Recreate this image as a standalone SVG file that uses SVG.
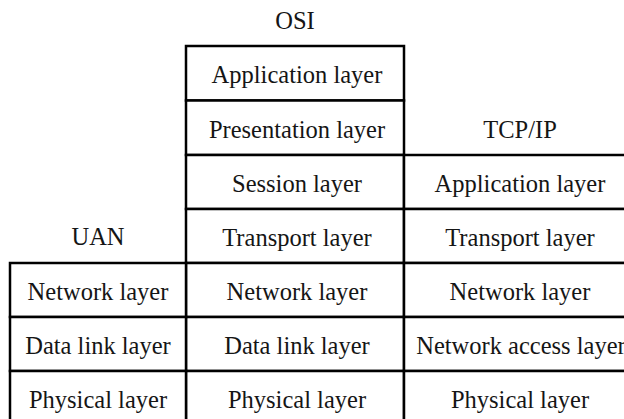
<svg xmlns="http://www.w3.org/2000/svg" width="624" height="419" viewBox="0 0 624 419">
<style>
  .cell { fill: #ffffff; stroke: #000000; stroke-width: 2.5; }
  .t { font-family: 'Liberation Serif', 'Times New Roman', Tinos, 'DejaVu Serif', 'Noto Serif', serif; font-size: 24.5px; fill: #151515; text-anchor: middle; }
</style>
<rect x="0" y="0" width="624" height="419" fill="#ffffff"/>
<g id="labels">
  <text class="t" x="295" y="29">OSI</text>
  <text class="t" x="520" y="138">TCP/IP</text>
  <text class="t" x="98" y="245">UAN</text>
</g>
<g id="osi">
  <g id="osi-application"><rect class="cell" x="186" y="46" width="218" height="54.5"/><text class="t" x="297" y="83">Application layer</text></g>
  <g id="osi-presentation"><rect class="cell" x="186" y="100.5" width="218" height="54.5"/><text class="t" x="297" y="137.5">Presentation layer</text></g>
  <g id="osi-session"><rect class="cell" x="186" y="155" width="218" height="54"/><text class="t" x="297" y="192">Session layer</text></g>
  <g id="osi-transport"><rect class="cell" x="186" y="209" width="218" height="54"/><text class="t" x="297" y="246">Transport layer</text></g>
  <g id="osi-network"><rect class="cell" x="186" y="263" width="218" height="54"/><text class="t" x="297" y="300">Network layer</text></g>
  <g id="osi-datalink"><rect class="cell" x="186" y="317" width="218" height="54"/><text class="t" x="297" y="354">Data link layer</text></g>
  <g id="osi-physical"><rect class="cell" x="186" y="371" width="218" height="54"/><text class="t" x="297" y="408">Physical layer</text></g>
</g>
<g id="tcpip">
  <g id="tcp-application"><rect class="cell" x="404" y="155" width="232" height="54"/><text class="t" x="520" y="192">Application layer</text></g>
  <g id="tcp-transport"><rect class="cell" x="404" y="209" width="232" height="54"/><text class="t" x="520" y="246">Transport layer</text></g>
  <g id="tcp-network"><rect class="cell" x="404" y="263" width="232" height="54"/><text class="t" x="520" y="300">Network layer</text></g>
  <g id="tcp-access"><rect class="cell" x="404" y="317" width="232" height="54"/><text class="t" x="521" y="354">Network access layer</text></g>
  <g id="tcp-physical"><rect class="cell" x="404" y="371" width="232" height="54"/><text class="t" x="520" y="408">Physical layer</text></g>
</g>
<g id="uan">
  <g id="uan-network"><rect class="cell" x="10" y="263" width="176" height="54"/><text class="t" x="98" y="300">Network layer</text></g>
  <g id="uan-datalink"><rect class="cell" x="10" y="317" width="176" height="54"/><text class="t" x="98" y="354">Data link layer</text></g>
  <g id="uan-physical"><rect class="cell" x="10" y="371" width="176" height="54"/><text class="t" x="98" y="408">Physical layer</text></g>
</g>
</svg>
